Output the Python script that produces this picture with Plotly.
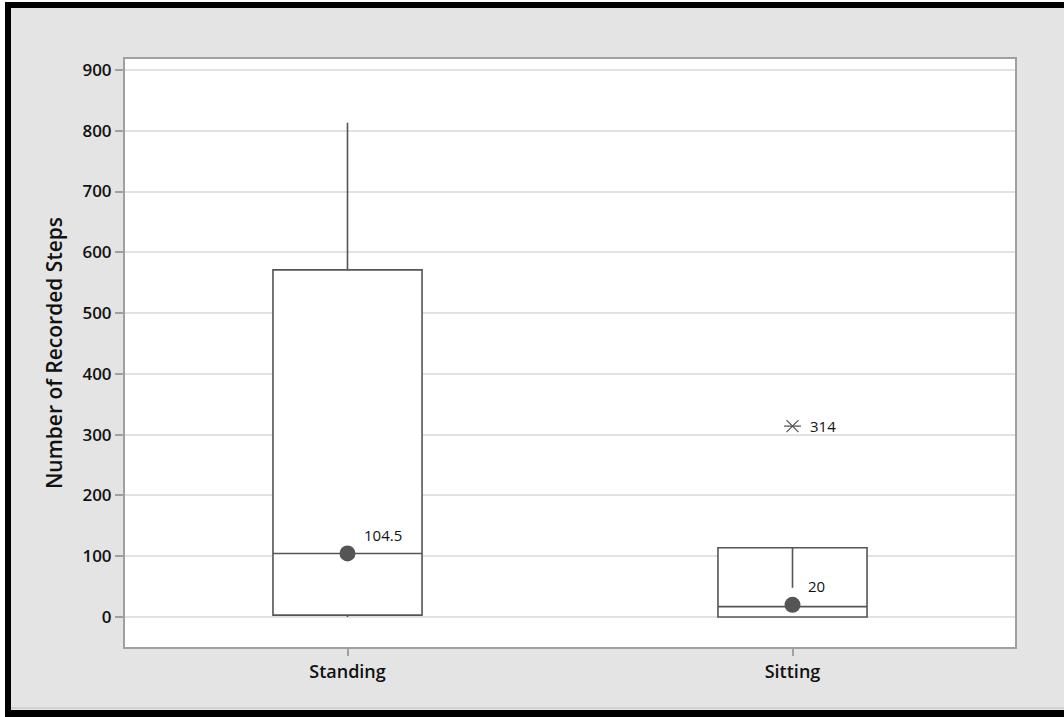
import plotly.graph_objects as go

# ---- data ----
categories = ["Standing", "Sitting"]
q1_vals = [3, 0]
median_vals = [104.5, 17]
q3_vals = [571, 114]
lower_fence = [0, 0]
upper_fence = [813, 114]
mean_vals = [104.5, 20]
mean_labels = ["104.5", "20"]
outlier_cat = ["Sitting"]
outlier_vals = [314]
outlier_labels = ["314"]
sitting_line_vals = [114, 48]
y_ticks = [0, 100, 200, 300, 400, 500, 600, 700, 800, 900]

DARK = "#555555"
FONT = "Open Sans"

fig = go.Figure()

fig.add_trace(go.Box(
    x=categories, q1=q1_vals, median=median_vals, q3=q3_vals,
    lowerfence=lower_fence, upperfence=upper_fence,
    boxpoints=False, fillcolor="white",
    line=dict(color=DARK, width=1.6), whiskerwidth=0, width=0.335,
    showlegend=False, hoverinfo="skip",
))

fig.add_trace(go.Scatter(
    x=["Sitting", "Sitting"], y=sitting_line_vals, mode="lines",
    line=dict(color=DARK, width=1.6), showlegend=False, hoverinfo="skip",
))

fig.add_trace(go.Scatter(
    x=categories, y=mean_vals, mode="markers",
    marker=dict(color=DARK, size=16, line=dict(width=0)),
    showlegend=False, hoverinfo="skip",
))

for sym in ["x-thin-open", "line-ew-open"]:
    fig.add_trace(go.Scatter(
        x=outlier_cat, y=outlier_vals, mode="markers",
        marker=dict(symbol=sym, size=12, color=DARK, line=dict(color=DARK, width=1.3)),
        showlegend=False, hoverinfo="skip",
    ))

ann_font = dict(family=FONT, size=15, color="#111111")
shifts = [(35, 18), (24, 19)]
for c, v, t, (dx, dy) in zip(categories, mean_vals, mean_labels, shifts):
    fig.add_annotation(x=c, y=v, text=t, showarrow=False, xshift=dx, yshift=dy, font=ann_font)
for c, v, t in zip(outlier_cat, outlier_vals, outlier_labels):
    fig.add_annotation(x=c, y=v, text=t, showarrow=False, xshift=30, yshift=0, font=ann_font)

# frame decorations (pixel -> paper)
W, H = 1064, 717
L, R, T, B = 125, 1015, 59, 647
def px(x):
    return (x - L) / (R - L)
def py(y):
    return (B - y) / (B - T)

def rect(x0, y0, x1, y1, color):
    fig.add_shape(type="rect", xref="paper", yref="paper",
                  x0=px(x0), x1=px(x1), y0=py(y1), y1=py(y0),
                  fillcolor=color, line=dict(width=0), layer="above")

rect(0, 0, 5, 717, "white")
rect(0, 0, 1064, 2, "white")
rect(5, 2, 11, 717, "black")
rect(5, 2, 1064, 8, "black")
rect(11, 707, 1064, 709, "#d2d2d2")
rect(5, 710, 1064, 717, "black")

fig.update_layout(
    width=W, height=H,
    margin=dict(l=L, r=W - R, t=T, b=H - B),
    paper_bgcolor="#e4e4e4", plot_bgcolor="white",
    font=dict(family=FONT, color="#111111"),
)

fig.update_xaxes(
    type="category", range=[-0.5, 1.5],
    showgrid=False, zeroline=False,
    showline=True, mirror=True, linecolor="#a0a0a0", linewidth=2,
    ticks="outside", ticklen=7, tickcolor="#a0a0a0", tickwidth=1.5,
    tickfont=dict(family=FONT, size=18, color="#111111", weight=600),
)
fig.update_yaxes(
    range=[-49.4, 918], tickvals=y_ticks,
    showgrid=True, gridcolor="#e2e2e2", gridwidth=1.5, zeroline=False,
    showline=True, mirror=True, linecolor="#a0a0a0", linewidth=2,
    ticks="outside", ticklen=8, tickcolor="#a0a0a0", tickwidth=1.5,
    tickfont=dict(family=FONT, size=17, color="#111111", weight=600),
    title=dict(text="Number of Recorded Steps", standoff=14,
               font=dict(family=FONT, size=21, color="#111111", weight=600)),
)

fig.write_html("out.html", config={"displayModeBar": False},
               post_script="document.body.style.margin='0';document.body.style.padding='0';")
